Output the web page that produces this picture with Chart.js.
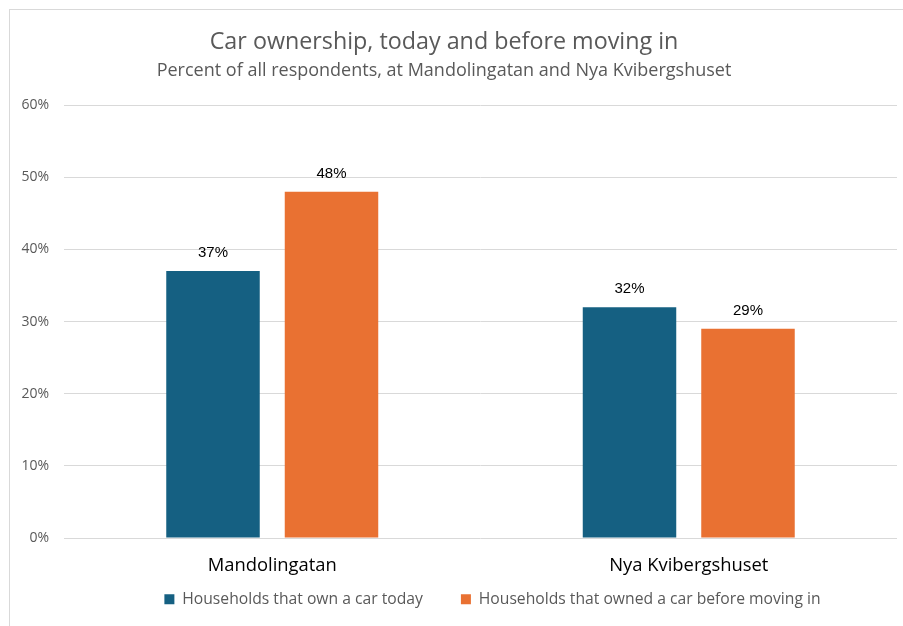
<!DOCTYPE html>
<html>
<head>
<meta charset="utf-8">
<script src="https://cdn.jsdelivr.net/npm/chart.js@4/dist/chart.umd.min.js"></script>
<style>
  html, body { margin: 0; padding: 0; overflow: hidden; background: #fff; }
  .frame { position: absolute; left: 9px; top: 9px; width: 910px; height: 640px; border: 1px solid #d9d9d9; }
  .wrap { position: absolute; left: -9px; top: 10px; width: 906px; height: 616px; }
</style>
</head>
<body>
<div class="frame"></div>
<div class="wrap"><canvas id="chart"></canvas></div>
<script>
const sites = ["Mandolingatan", "Nya Kvibergshuset"];
const ownToday = [37, 32];
const ownedBefore = [48, 29];
const seriesNames = ["Households that own a car today", "Households that owned a car before moving in"];
const yTicks = [0, 10, 20, 30, 40, 50, 60];

const uiFont = '"Open Sans", sans-serif';

// percent labels above each bar
const barValueLabels = {
  id: 'barValueLabels',
  afterDatasetsDraw(chart) {
    const ctx = chart.ctx;
    ctx.save();
    ctx.font = '15px "Liberation Sans", Arial, sans-serif';
    ctx.fillStyle = '#000';
    ctx.textAlign = 'center';
    ctx.textBaseline = 'middle';
    chart.data.datasets.forEach((ds, i) => {
      chart.getDatasetMeta(i).data.forEach((bar, j) => {
        ctx.fillText(ds.data[j] + '%', bar.x, bar.y - 18);
      });
    });
    ctx.restore();
  }
};

// put the legend row just under the category names, a bit right of centre
const legendPlace = {
  id: 'legendPlace',
  afterLayout(chart) {
    const lg = chart.legend;
    lg.left += 12;
    lg.right += 12;
    lg.top = chart.chartArea.bottom + 15.5;
    lg.bottom = lg.top + 64;
    lg.height = 64;
  }
};

new Chart(document.getElementById("chart"), {
  type: 'bar',
  data: {
    labels: sites,
    datasets: [{
      label: seriesNames[0],
      data: ownToday,
      backgroundColor: '#156082',
      categoryPercentage: 0.569,
      barPercentage: 0.789
    }, {
      label: seriesNames[1],
      data: ownedBefore,
      backgroundColor: '#e97132',
      categoryPercentage: 0.569,
      barPercentage: 0.789
    }]
  },
  options: {
    responsive: true,
    maintainAspectRatio: false,
    animation: false,
    layout: { padding: { left: 0, right: 0, top: 0, bottom: 26 } },
    plugins: {
      title: {
        display: true,
        text: 'Car ownership, today and before moving in',
        color: '#595959',
        font: { family: uiFont, size: 23.3, weight: 'normal' },
        padding: { top: 18.1, bottom: 3.6 }
      },
      subtitle: {
        display: true,
        text: 'Percent of all respondents, at Mandolingatan and Nya Kvibergshuset',
        color: '#595959',
        font: { family: uiFont, size: 18 },
        padding: { top: 0, bottom: 23.9 }
      },
      legend: {
        position: 'bottom',
        fullSize: false,
        maxHeight: 20,
        labels: {
          boxWidth: 10,
          boxHeight: 10,
          padding: 38,
          color: '#595959',
          font: { family: uiFont, size: 15.7 }
        }
      },
      tooltip: { enabled: false }
    },
    scales: {
      x: {
        grid: { display: false, drawTicks: false },
        border: { display: false },
        ticks: { color: '#000', padding: 16.9, maxRotation: 0, font: { family: uiFont, size: 18.4 } },
        afterFit(scale) { scale.height = 42; }
      },
      y: {
        min: 0,
        max: 60,
        grid: { color: '#d9d9d9', drawTicks: false },
        border: { display: false },
        afterBuildTicks(scale) { scale.ticks = yTicks.map(v => ({ value: v })); },
        ticks: {
          color: '#595959',
          padding: 15,
          font: { family: uiFont, size: 14 },
          callback: v => v + '%'
        },
        afterFit(scale) { scale.width = 73; }
      }
    }
  },
  plugins: [barValueLabels, legendPlace]
});
</script>
</body>
</html>
